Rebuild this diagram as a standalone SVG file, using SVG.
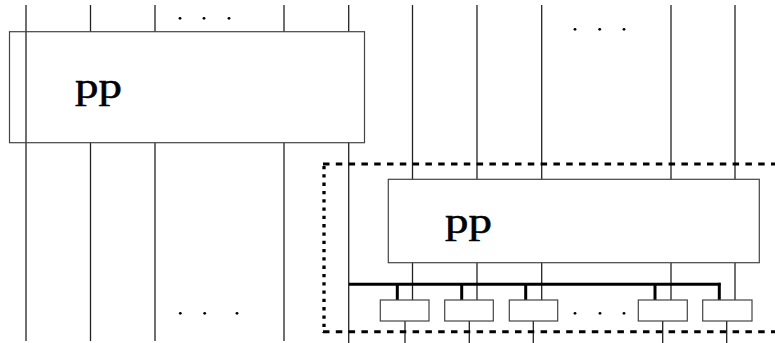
<svg xmlns="http://www.w3.org/2000/svg" width="775" height="343" viewBox="0 0 775 343">
<style>
.w{stroke:#222;stroke-width:1.3;fill:none}
.box{stroke:#444;stroke-width:1.2;fill:none}
.bus{stroke:#000;stroke-width:3;fill:none}
.dh{stroke:#000;stroke-width:3;stroke-dasharray:6.5 6.3;fill:none}
.dv{stroke:#000;stroke-width:3.3;stroke-dasharray:3.3 5;fill:none}
.lbl{font-family:"Liberation Serif","Times New Roman",serif;font-size:35px;fill:#000;stroke:#000;stroke-width:0.5}
.dot{fill:#000}
</style>
<g id="connectors">
  <line class="w" x1="26" y1="5" x2="26" y2="341"/>
  <line class="w" x1="90.5" y1="5" x2="90.5" y2="31.7"/>
  <line class="w" x1="90.5" y1="142.7" x2="90.5" y2="341"/>
  <line class="w" x1="155" y1="5" x2="155" y2="31.7"/>
  <line class="w" x1="155" y1="142.7" x2="155" y2="341"/>
  <line class="w" x1="284" y1="5" x2="284" y2="31.7"/>
  <line class="w" x1="284" y1="142.7" x2="284" y2="341"/>
  <line class="w" x1="348.7" y1="5" x2="348.7" y2="31.7"/>
  <line class="w" x1="348.7" y1="142.7" x2="348.7" y2="343"/>
  <line class="w" x1="412.5" y1="5" x2="412.5" y2="179.3"/>
  <line class="w" x1="477" y1="5" x2="477" y2="179.3"/>
  <line class="w" x1="541.7" y1="5" x2="541.7" y2="179.3"/>
  <line class="w" x1="671" y1="5" x2="671" y2="179.3"/>
  <line class="w" x1="735" y1="5" x2="735" y2="179.3"/>
  <line class="w" x1="412.5" y1="262.7" x2="412.5" y2="300"/>
  <line class="w" x1="477" y1="262.7" x2="477" y2="300"/>
  <line class="w" x1="541.7" y1="262.7" x2="541.7" y2="300"/>
  <line class="w" x1="671" y1="262.7" x2="671" y2="300"/>
  <line class="w" x1="735" y1="262.7" x2="735" y2="300"/>
  <path class="bus" d="M349 284.3 H720.5"/>
  <line class="bus" x1="397.3" y1="284.3" x2="397.3" y2="300"/>
  <line class="bus" x1="461.7" y1="284.3" x2="461.7" y2="300"/>
  <line class="bus" x1="525.7" y1="284.3" x2="525.7" y2="300"/>
  <line class="bus" x1="655" y1="284.3" x2="655" y2="300"/>
  <line class="bus" x1="719.3" y1="282.8" x2="719.3" y2="300"/>
  <line class="w" x1="405" y1="321" x2="405" y2="343"/>
  <line class="w" x1="469.3" y1="321" x2="469.3" y2="343"/>
  <line class="w" x1="533.3" y1="321" x2="533.3" y2="343"/>
  <line class="w" x1="662.7" y1="321" x2="662.7" y2="343"/>
  <line class="w" x1="726.7" y1="321" x2="726.7" y2="343"/>
</g>
<g id="dashed-frame">
  <line class="dh" x1="323" y1="164" x2="775" y2="164"/>
  <line class="dh" x1="323" y1="331.7" x2="775" y2="331.7"/>
  <line class="dv" x1="324" y1="166" x2="324" y2="333"/>
</g>
<g id="pp-left">
  <rect class="box" x="9.5" y="31.7" width="355" height="111"/>
  <text class="lbl" x="75" y="97.7" textLength="47" lengthAdjust="spacingAndGlyphs">pp</text>
</g>
<g id="pp-right">
  <rect class="box" x="388.3" y="179.3" width="371" height="83.4"/>
  <text class="lbl" x="445" y="232.7" textLength="47" lengthAdjust="spacingAndGlyphs">pp</text>
</g>
<g id="cell1"><rect class="box" x="380.3" y="300" width="48.7" height="21"/></g>
<g id="cell2"><rect class="box" x="444.7" y="300" width="48.6" height="21"/></g>
<g id="cell3"><rect class="box" x="509.3" y="300" width="48.4" height="21"/></g>
<g id="cell4"><rect class="box" x="638.3" y="300" width="49" height="21"/></g>
<g id="cell5"><rect class="box" x="702.7" y="300" width="49.3" height="21"/></g>
<g id="ellipses">
  <circle class="dot" cx="180" cy="18.3" r="1.4"/>
  <circle class="dot" cx="204" cy="18.3" r="1.4"/>
  <circle class="dot" cx="229" cy="18.3" r="1.4"/>
  <circle class="dot" cx="575" cy="29.3" r="1.4"/>
  <circle class="dot" cx="599.7" cy="29.3" r="1.4"/>
  <circle class="dot" cx="624" cy="29.3" r="1.4"/>
  <circle class="dot" cx="180.3" cy="313.3" r="1.4"/>
  <circle class="dot" cx="204.7" cy="313.3" r="1.4"/>
  <circle class="dot" cx="237" cy="313.3" r="1.4"/>
  <circle class="dot" cx="575" cy="313.3" r="1.4"/>
  <circle class="dot" cx="600" cy="313.3" r="1.4"/>
  <circle class="dot" cx="624" cy="313.3" r="1.4"/>
</g>
</svg>
